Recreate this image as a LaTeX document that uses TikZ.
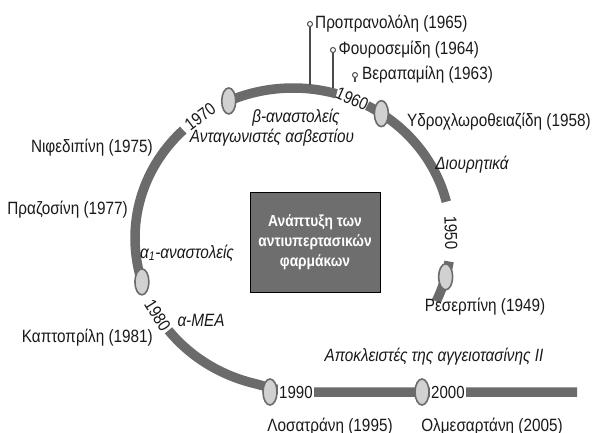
\documentclass[tikz,border=0pt]{standalone}
\usepackage{fontspec}
\setmainfont{Liberation Sans}[FakeStretch=0.86]
\usetikzlibrary{shapes.geometric}

\definecolor{bargray}{gray}{0.42}
\definecolor{markgray}{gray}{0.82}
\definecolor{boxgray}{gray}{0.43}
\definecolor{txt}{gray}{0.1}

\tikzset{
  bar/.style={bargray, line width=9.5pt},
  marker/.style={ellipse, draw=bargray, line width=1.6pt, fill=markgray,
    minimum width=14pt, minimum height=26pt, inner sep=0pt},
  year/.style={text=txt, inner sep=1pt, font=\fontsize{17.5}{20}\selectfont},
  lbl/.style={text=txt, inner sep=0pt, font=\fontsize{17.8}{20}\selectfont},
  cls/.style={text=txt, inner sep=0pt, font=\fontsize{17.8}{20}\selectfont\itshape},
  pinhead/.style={circle, draw=bargray!70!black, fill=white, line width=1pt,
    minimum size=5pt, inner sep=0pt},
  stem/.style={bargray!70!black, line width=1.2pt},
}

\begin{document}
\begin{tikzpicture}[x=1pt,y=1pt]
\useasboundingbox (0,0) rectangle (593,432);
  \coordinate (C) at (293,194);

% pieces of the time line
\foreach \s/\e in {-25/-9, 14/62, 74/114, 134/199}{
   \draw[bar] (C) ++(\s:158 and 150) arc[start angle=\s, end angle=\e, x radius=158, y radius=150];
}
\draw[bar] (C) ++(218:158 and 150) arc[start angle=218, end angle=255, x radius=158, y radius=150]
   to[out=-14,in=180] (300,40) -- (577,40);

% years
\path (C) ++(2:158 and 150) node[year, rotate=-88] (y1950) {1950};
\path (C) ++(68:158 and 150) node[year, rotate=-24] (y1960) {1960};
\path (C) ++(126:158 and 150) node[year, rotate=37] (y1970) {1970};
\path (C) ++(211:158 and 150) node[year, rotate=-58] (y1980) {1980};
\node[year, fill=white, anchor=west] (y1990) at (278,40) {1990};
\node[year, fill=white, anchor=west] (y2000) at (430,40) {2000};

% markers
\foreach \ang/\n in {-15/1949, 56/1958, 114/1970, 197/1980}{
   \path (C) ++(\ang:158 and 150) node[marker] (m\n) {};
}
\node[marker] (m1990) at (270,40) {};
\node[marker] (m2000) at (422,40) {};

% pins on top
\node[pinhead] (p1965) at (310,408) {};
\node[pinhead] (p1964) at (333,382) {};
\node[pinhead] (p1963) at (355,357) {};
\coordinate (a1965) at (310,347);
\coordinate (a1964) at (333,344);
\coordinate (a1963) at (355,350);
\draw[stem] (p1965) -- (a1965);
\draw[stem] (p1964) -- (a1964);
\draw[stem] (p1963) -- (a1963);

% drugs
\node[lbl, anchor=west] (propr) at ([xshift=2pt]p1965.east) {Προπρανολόλη (1965)};
\node[lbl, anchor=west] (furo) at ([xshift=2.5pt]p1964.east) {Φουροσεμίδη (1964)};
\node[lbl, anchor=west] (vera) at ([xshift=4pt]p1963.east) {Βεραπαμίλη (1963)};
\node[lbl, anchor=west] (hydro) at (407,310) {Υδροχλωροθειαζίδη (1958)};
\node[lbl] (reser) at (485,125) {Ρεσερπίνη (1949)};
\node[lbl, anchor=east] (nife) at (153,284) {Νιφεδιπίνη (1975)};
\node[lbl, anchor=east] (praz) at (128,222) {Πραζοσίνη (1977)};
\node[lbl, anchor=east] (capt) at (153,94) {Καπτοπρίλη (1981)};
\node[lbl, anchor=base] (losa) at (330,0.5) {Λοσατράνη (1995)};
\node[lbl, anchor=base] (olme) at (492,0.5) {Ολμεσαρτάνη (2005)};

% classes
\node[cls] (diur) at (472,267) {Διουρητικά};
\node[cls] (beta) at (296,314) {β-αναστολείς};
\node[cls] (calc) at (272,294) {Ανταγωνιστές ασβεστίου};
\node[cls, anchor=west] (alpha) at (140,179) {α\textsubscript{1}-αναστολείς};
\node[cls] (ace) at (201,112) {α-ΜΕΑ};
\node[cls] (arb) at (434,75) {Αποκλειστές της αγγειοτασίνης II};

\node[draw=black, fill=boxgray, text=white, line width=0.8pt, align=center,
      minimum width=130pt, minimum height=100pt,
      font=\fontsize{16}{20}\selectfont\bfseries] (title) at (315,190)
      {Ανάπτυξη των\\αντιυπερτασικών\\φαρμάκων};
\end{tikzpicture}
\end{document}
